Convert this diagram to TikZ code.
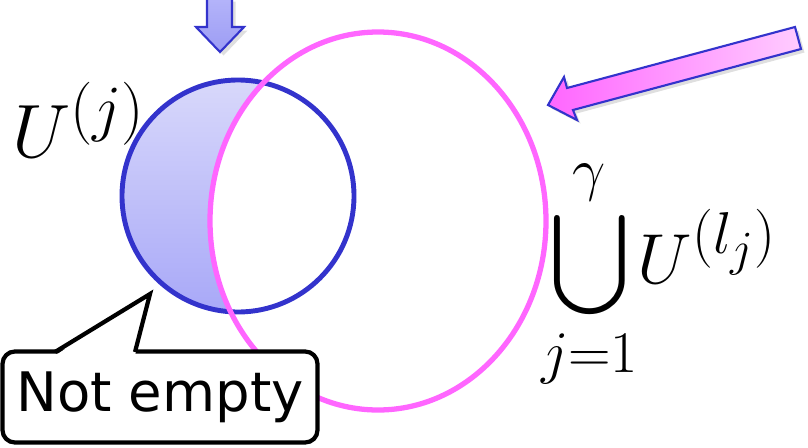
\documentclass[tikz,border=0pt]{standalone}
\usepackage{amsmath,amssymb}
\usepackage{graphicx}
\usepackage{fontspec}
\usepackage{xcolor}
\usepackage{tikz}
\usetikzlibrary{positioning,shadows}
\newfontfamily\calloutfont{DejaVu Sans}
\definecolor{setblue}{HTML}{3333CC}
\definecolor{setpink}{HTML}{FF66FF}
\definecolor{cresTop}{HTML}{E2E2FB}
\definecolor{cresBot}{HTML}{9494F7}
\definecolor{downTop}{HTML}{B4B4FA}
\definecolor{downBot}{HTML}{9C9CF4}
\definecolor{pinkLeft}{HTML}{FF66FF}
\definecolor{pinkRight}{HTML}{FFCCFF}
\tikzset{
  blockarrow/.style={draw=setblue, line width=1.2pt, line join=miter,
    drop shadow={opacity=0.25, shadow xshift=2pt, shadow yshift=-2pt}},
  callbox/.style={draw=black, line width=2.4pt, rounded corners=7pt, fill=white,
    minimum width=6.3cm, minimum height=1.82cm, inner sep=0pt,
    font=\calloutfont\fontsize{31}{36}\selectfont},
  bigmath/.style={inner sep=0pt, font=\fontsize{24.88}{30}\selectfont},
}
\begin{document}
\begin{tikzpicture}[x=0.02cm, y=-0.02cm]
\useasboundingbox (0,0) rectangle (808,447);
% crescent: U^(j) outside the union
\begin{scope}
  \clip (238,196) circle [radius=116];
  \shade[top color=cresTop, bottom color=cresBot, even odd rule]
    (378,221) ellipse [x radius=168, y radius=189] (120,80) rectangle (356,312);
  \draw[setblue, line width=0.8pt] (378,221) ellipse [x radius=168, y radius=189];
\end{scope}
\draw[setblue, line width=2.8pt] (238,196) circle [radius=116];
\draw[setpink, line width=3pt] (378,221) ellipse [x radius=168, y radius=189];
% arrows
\shade[blockarrow, top color=downTop, bottom color=downBot]
  (207,-2) -- (232,-2) -- (232,27) -- (244,27) -- (220,52) -- (196,27) -- (207,27) -- cycle;
\shade[blockarrow, left color=pinkLeft, right color=pinkRight]
  (548,105) -- (564,77) -- (567,88) -- (795,27) -- (801,49) -- (573,110) -- (577,120) -- cycle;
% labels
\node[bigmath] (Uj) at (79,120) {\scalebox{1.73}{$U^{(j)}$}};
\node[bigmath] (union) at (659,274) {\scalebox{1.62}{$\displaystyle\bigcup_{j=1}^{\gamma}\!U^{(l_j)}$}};
% callout
\node[callbox] (callout) at (160,397) {Not empty};
\coordinate (tailA) at (55,352);
\coordinate (tailB) at (135,352);
\coordinate (tailtip) at (150,294);
\fill[white] ([yshift=-2pt]tailA) -- (tailtip) -- ([yshift=-2pt]tailB) -- cycle;
\draw[black, line width=2.4pt, line join=miter] (tailA) -- (tailtip) -- (tailB);
\end{tikzpicture}
\end{document}
